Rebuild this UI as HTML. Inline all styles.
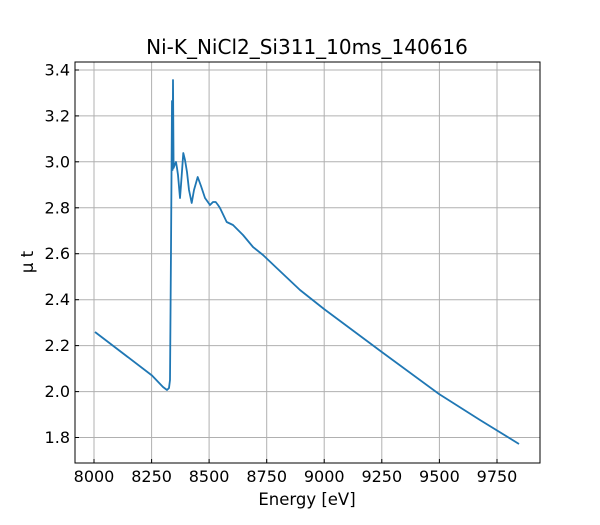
<!DOCTYPE html>
<html><head><style>body{margin:0;background:#fff}</style></head><body>
<svg width="600" height="520" xmlns="http://www.w3.org/2000/svg" font-family="'DejaVu Sans','Liberation Sans',sans-serif">
<rect width="600" height="520" fill="#fff"/>
<g stroke="#b0b0b0" stroke-width="1">
<line x1="94" y1="62" x2="94" y2="463"/><line x1="151.6" y1="62" x2="151.6" y2="463"/><line x1="209.1" y1="62" x2="209.1" y2="463"/><line x1="266.7" y1="62" x2="266.7" y2="463"/><line x1="324.2" y1="62" x2="324.2" y2="463"/><line x1="381.8" y1="62" x2="381.8" y2="463"/><line x1="439.4" y1="62" x2="439.4" y2="463"/><line x1="497" y1="62" x2="497" y2="463"/>
<line x1="75" y1="437.5" x2="540" y2="437.5"/><line x1="75" y1="391.6" x2="540" y2="391.6"/><line x1="75" y1="345.6" x2="540" y2="345.6"/><line x1="75" y1="299.7" x2="540" y2="299.7"/><line x1="75" y1="253.7" x2="540" y2="253.7"/><line x1="75" y1="207.8" x2="540" y2="207.8"/><line x1="75" y1="161.8" x2="540" y2="161.8"/><line x1="75" y1="115.9" x2="540" y2="115.9"/><line x1="75" y1="70" x2="540" y2="70"/>
</g>
<polyline fill="none" stroke="#1f77b4" stroke-width="1.8" stroke-linejoin="round" points="95,332 152,375.5 163,387 167,390 169,388 170,380 171,250 172,101 172.6,170 173,80 173.6,168 175,164 176,162 177,168 178,175 180,198 181,185 183.3,153 185,160 187,172 189,190 191.7,203 194,190 197.7,177 201,186 205,198 210,205 213,202 215.7,202 218,205 220,208 226.7,222 233,225 243,235 253,247 263,255 276.7,268 300,290 324,309 381.8,352 439,394 480,420 519,444"/>
<rect x="75" y="62" width="465" height="401" fill="none" stroke="#000" stroke-width="1"/>
<g stroke="#000" stroke-width="1">
<line x1="94" y1="463" x2="94" y2="459"/><line x1="151.6" y1="463" x2="151.6" y2="459"/><line x1="209.1" y1="463" x2="209.1" y2="459"/><line x1="266.7" y1="463" x2="266.7" y2="459"/><line x1="324.2" y1="463" x2="324.2" y2="459"/><line x1="381.8" y1="463" x2="381.8" y2="459"/><line x1="439.4" y1="463" x2="439.4" y2="459"/><line x1="497" y1="463" x2="497" y2="459"/>
<line x1="75" y1="437.5" x2="79" y2="437.5"/><line x1="75" y1="391.6" x2="79" y2="391.6"/><line x1="75" y1="345.6" x2="79" y2="345.6"/><line x1="75" y1="299.7" x2="79" y2="299.7"/><line x1="75" y1="253.7" x2="79" y2="253.7"/><line x1="75" y1="207.8" x2="79" y2="207.8"/><line x1="75" y1="161.8" x2="79" y2="161.8"/><line x1="75" y1="115.9" x2="79" y2="115.9"/><line x1="75" y1="70" x2="79" y2="70"/>
</g>
<g font-size="16" fill="#000" text-anchor="middle">
<text x="94" y="482">8000</text><text x="151.6" y="482">8250</text><text x="209.1" y="482">8500</text><text x="266.7" y="482">8750</text><text x="324.2" y="482">9000</text><text x="381.8" y="482">9250</text><text x="439.4" y="482">9500</text><text x="497" y="482">9750</text>
</g>
<g font-size="16" fill="#000" text-anchor="end">
<text x="70" y="443">1.8</text><text x="70" y="397.1">2.0</text><text x="70" y="351.1">2.2</text><text x="70" y="305.2">2.4</text><text x="70" y="259.2">2.6</text><text x="70" y="213.3">2.8</text><text x="70" y="167.3">3.0</text><text x="70" y="121.4">3.2</text><text x="70" y="75.5">3.4</text>
</g>
<text x="307" y="505" font-size="16.5" text-anchor="middle">Energy [eV]</text>
<text x="307" y="54" font-size="20" text-anchor="middle">Ni-K_NiCl2_Si311_10ms_140616</text>
<text transform="translate(33,262) rotate(-90)" font-size="16.5" text-anchor="middle">μ t</text>
</svg>
</body></html>
